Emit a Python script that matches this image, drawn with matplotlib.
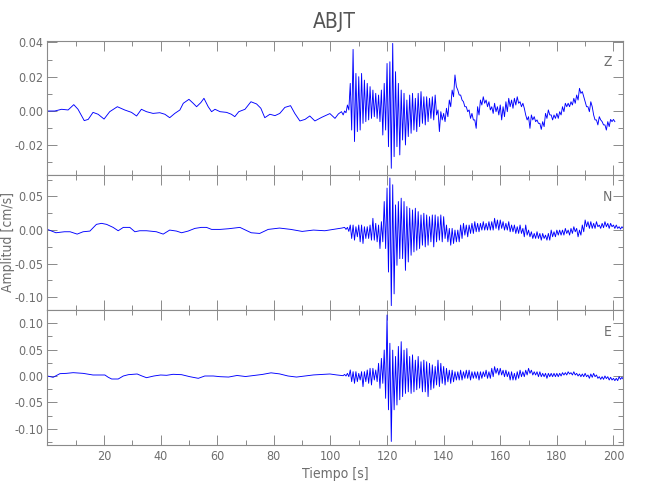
import numpy as np
import matplotlib
matplotlib.use("Agg")
import matplotlib.pyplot as plt
from matplotlib.ticker import MultipleLocator, FuncFormatter

plt.rcParams['font.family'] = ['DejaVu Sans']
plt.rcParams['font.stretch'] = 'condensed'

# Station and component labels
station = "ABJT"
components = ["Z", "N", "E"]

# ---- Z component ----
# quiet part before the arrival (time, value)
z_quiet_t = [0, 2.6, 5, 7.3, 9.3, 10.8, 13, 14.4, 16.1, 17.9, 20, 22, 24.7, 27.3,
             29.7, 31.5, 33.2, 35, 37.3, 39.7, 41.5, 43.2, 45, 46.8, 48, 50, 51.5,
             52.7, 54.2, 55.3, 56.8, 58, 59.2, 61, 63.3, 65, 66.2, 67.6, 69.8, 71.9,
             73.9, 75.4, 76.8, 78.6, 80.4, 82.1, 83.9, 85.9, 87.4, 89.2, 91, 92.7,
             94.5, 96.9, 99.8, 101.6, 102.8, 103.9, 104.5]
z_quiet_v = [0.0, 0.0, 0.001, 0.0006, 0.0037, 0.001, -0.0056, -0.0049, -0.0008,
             -0.0019, -0.0047, -0.0004, 0.0025, 0.0006, -0.0008, -0.0029, 0.001,
             -0.0004, -0.0014, -0.001, -0.0019, -0.0039, -0.0014, 0.0006, 0.0045,
             0.0068, 0.0045, 0.0025, 0.0049, 0.0074, 0.0025, -0.0004, 0.001, -0.0004,
             -0.0008, -0.0019, -0.0033, -0.0004, 0.001, 0.0054, 0.0041, 0.0016,
             -0.0039, -0.0019, -0.0027, -0.0014, 0.0021, 0.0031, -0.0014, -0.0058,
             -0.0049, -0.0029, -0.0058, -0.0037, -0.0015, -0.0043, -0.0017, -0.0004,
             -0.0023]
# strong motion part: max / min per second, from 105 s
z_start = 105
z_hi = [0.0, 0.0035, 0.0161, 0.0359, 0.0219, 0.020, 0.0219, 0.018, 0.0161, 0.0142,
        0.0122, 0.0103, 0.0093, 0.0122, 0.0161, 0.0277, 0.0287, 0.0394, 0.0229,
        0.0161, 0.0122, 0.0103, 0.0064, 0.0093, 0.0103, 0.0074, 0.0103, 0.0113,
        0.0083, 0.0083, 0.0074, 0.0083, 0.0093, 0.0006, -0.0004, -0.0014, 0.0016,
        0.0064, 0.0122, 0.021, 0.0122, 0.0093, 0.0054, 0.0025, 0.0006, -0.0014,
        -0.0052, 0.0025, 0.0064, 0.0083, 0.0064, 0.0054, 0.0025, 0.0045, 0.0025,
        0.0035, 0.0025, 0.0054, 0.0074, 0.0064, 0.0074, 0.0083, 0.0054, 0.0045,
        -0.0023, -0.0033, -0.0023, -0.0033, -0.0052, -0.0072, -0.0062, -0.0014,
        0.0006, -0.0023, -0.0023, -0.0014, -0.0004, 0.0025, 0.0045, 0.0045, 0.0054,
        0.0074, 0.0093, 0.0132, 0.0113, 0.0054, 0.0025, 0.0054, -0.0023, -0.0052,
        -0.0033, -0.0062, -0.0081, -0.0062, -0.0049, -0.0049]
z_lo = [-0.001, 0.0006, -0.0111, -0.0178, -0.012, -0.0111, -0.0072, -0.0062,
        -0.0052, -0.0043, -0.0033, -0.0043, -0.0062, -0.014, -0.0111, -0.0208,
        -0.0334, -0.0266, -0.0208, -0.0256, -0.0169, -0.0198, -0.0149, -0.013,
        -0.0111, -0.012, -0.0091, -0.0072, -0.0081, -0.0062, -0.0043, -0.0052,
        -0.0023, -0.012, -0.0052, -0.0062, -0.0033, 0.0025, 0.0083, 0.0142, 0.0093,
        0.0064, 0.0025, -0.0004, -0.0043, -0.0052, -0.0101, -0.0023, 0.0035, 0.0045,
        0.0025, 0.0006, -0.0014, -0.0004, -0.0023, -0.0052, -0.0033, -0.0004,
        0.0025, 0.0016, 0.0035, 0.0045, 0.0025, 0.0016, -0.0052, -0.0101, -0.0052,
        -0.0062, -0.0072, -0.0107, -0.0091, -0.0043, -0.0023, -0.0052, -0.0043,
        -0.0043, -0.0023, -0.0004, 0.0025, 0.0025, 0.0035, 0.0045, 0.0064, 0.0103,
        0.0083, 0.0025, -0.0004, 0.0025, -0.0052, -0.0081, -0.0052, -0.0081,
        -0.0111, -0.0091, -0.0062, -0.0062]

# ---- N component ----
n_quiet_t = [0, 3, 6, 8, 10.5, 12.6, 15, 17.3, 19.1, 20.9, 23.2, 25, 26.8, 29.1,
             30.9, 32.6, 35, 38.5, 40.9, 43.2, 45.6, 47.4, 49.7, 52.1, 54.4, 56.2,
             58, 61, 64, 68, 72, 75, 78, 82, 86, 90, 94, 98, 101, 104]
n_quiet_v = [0.001, -0.004, -0.0025, -0.0025, -0.006, -0.0025, -0.0015, 0.0085,
             0.010, 0.0085, 0.004, -0.001, 0.004, 0.004, -0.0025, -0.001, -0.001,
             -0.0025, -0.006, 0.0, -0.0015, -0.004, -0.0015, 0.0025, 0.004, 0.004,
             0.001, 0.001, 0.002, 0.004, -0.004, -0.005, 0.001, 0.003, 0.001,
             -0.002, 0.0, -0.001, 0.001, 0.003]
n_start = 105
n_hi = [0.004, 0.004, 0.0075, 0.0075, 0.005, 0.0075, 0.0075, 0.005, 0.005, 0.0075,
        0.0175, 0.010, 0.0075, 0.0125, 0.0425, 0.0625, 0.0775, 0.0675, 0.0375,
        0.0425, 0.0475, 0.0425, 0.035, 0.0325, 0.030, 0.0325, 0.0275, 0.0225, 0.025,
        0.0225, 0.020, 0.0225, 0.0225, 0.020, 0.0225, 0.020, 0.0075, 0.0025, 0.0025,
        0.0, 0.0, 0.0075, 0.010, 0.0075, 0.0075, 0.010, 0.0125, 0.010, 0.010, 0.0125,
        0.010, 0.0125, 0.0125, 0.0175, 0.015, 0.015, 0.0125, 0.010, 0.0125, 0.0075,
        0.0075, 0.005, 0.0075, 0.0025, 0.0075, 0.0, -0.0025, -0.005, -0.0025, -0.005,
        -0.005, -0.0075, -0.005, 0.0, -0.0025, 0.0, 0.0, 0.0, 0.0025, 0.0, 0.0025,
        0.005, 0.0025, 0.0, 0.0075, 0.015, 0.0125, 0.0125, 0.010, 0.0125, 0.0075,
        0.010, 0.0125, 0.010, 0.010, 0.0075, 0.0075, 0.005, 0.005]
n_lo = [0.001, -0.002, -0.0125, -0.015, -0.010, -0.0175, -0.020, -0.0125, -0.0125,
        -0.015, -0.015, -0.0175, -0.0275, -0.0175, -0.0275, -0.0625, -0.1125, -0.095,
        -0.0525, -0.0425, -0.0425, -0.060, -0.0475, -0.0375, -0.0325, -0.030,
        -0.0275, -0.0225, -0.025, -0.0225, -0.0175, -0.025, -0.0175, -0.015,
        -0.0175, -0.0125, -0.0175, -0.0225, -0.020, -0.0175, -0.0175, -0.0125,
        -0.0075, -0.010, -0.005, -0.005, -0.0025, -0.0025, 0.0, 0.0, 0.0, 0.0, 0.0,
        0.0025, 0.0, 0.0025, 0.0, 0.0, -0.0025, -0.0025, -0.005, -0.005, -0.005,
        -0.010, -0.0075, -0.010, -0.0125, -0.0125, -0.0125, -0.015, -0.0125, -0.015,
        -0.015, -0.010, -0.010, -0.0075, -0.0075, -0.0075, -0.005, -0.0075, -0.005,
        -0.0025, -0.010, -0.0075, -0.0025, 0.005, 0.0025, 0.0025, 0.0025, 0.005,
        0.0025, 0.0035, 0.005, 0.0025, 0.005, 0.0025, 0.0025, 0.0015, 0.0025]

# ---- E component ----
e_quiet_t = [0, 2, 4.4, 6.7, 9.1, 12.6, 16.1, 18.5, 20.3, 21.5, 22.7, 25, 26.8,
             28.6, 31.7, 33.4, 35, 37.6, 40, 42.1, 44.4, 47.4, 50.3, 53.3, 55.6,
             58.6, 61, 64, 67, 70, 73, 76, 79, 82, 85, 88, 91, 94, 97, 99.8, 102.2,
             104.5]
e_quiet_v = [0.0, -0.0025, 0.0044, 0.005, 0.0063, 0.005, 0.0019, 0.0019, 0.0019,
             -0.0025, -0.0057, -0.0057, 0.0, 0.0025, 0.0038, 0.0, -0.0032, 0.0,
             0.0019, 0.0013, 0.0032, 0.0025, -0.0013, -0.0044, 0.0, 0.0, -0.0013,
             -0.002, 0.001, -0.001, 0.001, 0.003, 0.006, 0.004, 0.0, -0.002, 0.0,
             0.002, 0.003, 0.0038, 0.002, 0.0006]
e_start = 105
e_hi = [0.003, 0.005, 0.0114, 0.0082, 0.0082, 0.005, 0.0082, 0.0082, 0.0114, 0.0145,
        0.0145, 0.0114, 0.024, 0.0334, 0.0492, 0.1155, 0.062, 0.049, 0.037, 0.056,
        0.065, 0.049, 0.052, 0.037, 0.040, 0.030, 0.037, 0.027, 0.030, 0.027, 0.024,
        0.021, 0.018, 0.030, 0.024, 0.018, 0.0145, 0.011, 0.011, 0.008, 0.008, 0.011,
        0.008, 0.011, 0.011, 0.008, 0.008, 0.008, 0.008, 0.008, 0.011, 0.008, 0.0145,
        0.0177, 0.0145, 0.0145, 0.011, 0.011, 0.008, 0.008, 0.005, 0.008, 0.011,
        0.008, 0.011, 0.0145, 0.011, 0.008, 0.008, 0.008, 0.005, 0.005, 0.005, 0.005,
        0.005, 0.005, 0.005, 0.0063, 0.0063, 0.008, 0.0063, 0.008, 0.005, 0.0038,
        0.0038, 0.005, 0.0019, 0.0038, 0.005, 0.0019, -0.0013, -0.0013, 0.0, -0.0013,
        -0.0025, -0.0044, -0.0044, -0.0013, -0.0025]
e_lo = [0.0, -0.0013, -0.0107, -0.0139, -0.0107, -0.0076, -0.0202, -0.0107, -0.0139,
        -0.017, -0.0076, -0.0107, -0.0233, -0.0139, -0.0423, -0.064, -0.124, -0.064,
        -0.055, -0.045, -0.039, -0.033, -0.030, -0.033, -0.030, -0.026, -0.023,
        -0.030, -0.030, -0.039, -0.026, -0.023, -0.017, -0.020, -0.014, -0.017,
        -0.011, -0.014, -0.011, -0.0076, -0.0076, -0.0076, -0.0044, -0.0044, -0.0076,
        -0.0044, -0.0044, -0.0076, -0.0044, -0.0013, -0.0044, -0.0044, -0.0013,
        0.005, 0.0019, 0.0019, -0.0013, -0.0013, -0.0076, -0.0076, -0.0076, -0.0044,
        -0.0013, -0.0013, 0.0019, 0.005, 0.0019, 0.0019, -0.0013, -0.0013, -0.0013,
        -0.0044, -0.0013, -0.0013, -0.0013, -0.0013, 0.0, 0.0019, 0.0019, 0.0038,
        0.0019, 0.0019, 0.0, -0.0013, -0.0013, -0.0013, -0.0044, -0.0025, -0.0013,
        -0.0044, -0.0063, -0.0063, -0.005, -0.0076, -0.0076, -0.0088, -0.0088,
        -0.0063, -0.0063]

# Axis limits per panel
ylims = [(-0.0373, 0.0408), (-0.119, 0.082), (-0.1307, 0.125)]
ymajor = [0.02, 0.05, 0.05]
yminor = [0.01, 0.025, 0.025]
xlim = (0, 203.5)


def build_trace(qt, qv, start, hi, lo):
    # quiet samples followed by max/min pairs of each second
    ts = start + np.arange(len(hi), dtype=float)
    t_strong = np.column_stack([ts, ts + 0.5]).ravel()
    v_strong = np.column_stack([hi, lo]).ravel()
    return (np.concatenate([qt, t_strong]),
            np.concatenate([qv, v_strong]))


traces = [
    build_trace(z_quiet_t, z_quiet_v, z_start, z_hi, z_lo),
    build_trace(n_quiet_t, n_quiet_v, n_start, n_hi, n_lo),
    build_trace(e_quiet_t, e_quiet_v, e_start, e_hi, e_lo),
]

gray = "#8a8a8a"
text_gray = "#6e6e6e"

fig = plt.figure(figsize=(6.5, 5), dpi=100)

positions = [
    [0.073, 0.650, 0.886, 0.268],
    [0.073, 0.380, 0.886, 0.270],
    [0.073, 0.110, 0.886, 0.270],
]

axes = []
for i, pos in enumerate(positions):
    ax = fig.add_axes(pos)
    t, v = traces[i]
    ax.plot(t, v, color="#0000ff", lw=0.65)

    ax.set_xlim(*xlim)
    ax.set_ylim(*ylims[i])

    ax.xaxis.set_major_locator(MultipleLocator(20))
    ax.xaxis.set_minor_locator(MultipleLocator(10))
    ax.yaxis.set_major_locator(MultipleLocator(ymajor[i]))
    ax.yaxis.set_minor_locator(MultipleLocator(yminor[i]))
    ax.yaxis.set_major_formatter(FuncFormatter(lambda y, p: f"{y:.2f}".replace("-0.00", "0.00")))

    ax.tick_params(which="both", direction="in", top=True, right=True,
                   color=gray, labelcolor=text_gray, labelsize=9)
    ax.tick_params(which="major", length=7.2, width=0.7)
    ax.tick_params(which="minor", length=3.6, width=0.7)
    ax.tick_params(axis="y", pad=3)

    for sp in ax.spines.values():
        sp.set_color(gray)
        sp.set_linewidth(0.8)

    ax.text(0.972, 0.84, components[i], transform=ax.transAxes,
            ha="center", va="center", color=text_gray, fontsize=10)

    if i < 2:
        ax.tick_params(labelbottom=False)
    else:
        ax.xaxis.set_major_formatter(
            FuncFormatter(lambda x, p: "" if x == 0 else f"{x:.0f}"))
        ax.set_xlabel("Tiempo [s]", color=text_gray, fontsize=10, labelpad=3)
    axes.append(ax)

fig.text(0.013, 0.516, "Amplitud [cm/s]", rotation=90, ha="center", va="center",
         color=text_gray, fontsize=10)

fig.text(0.515, 0.956, station, ha="center", va="center",
         color="#555555", fontsize=15)

fig.savefig("out.png", dpi=100)
